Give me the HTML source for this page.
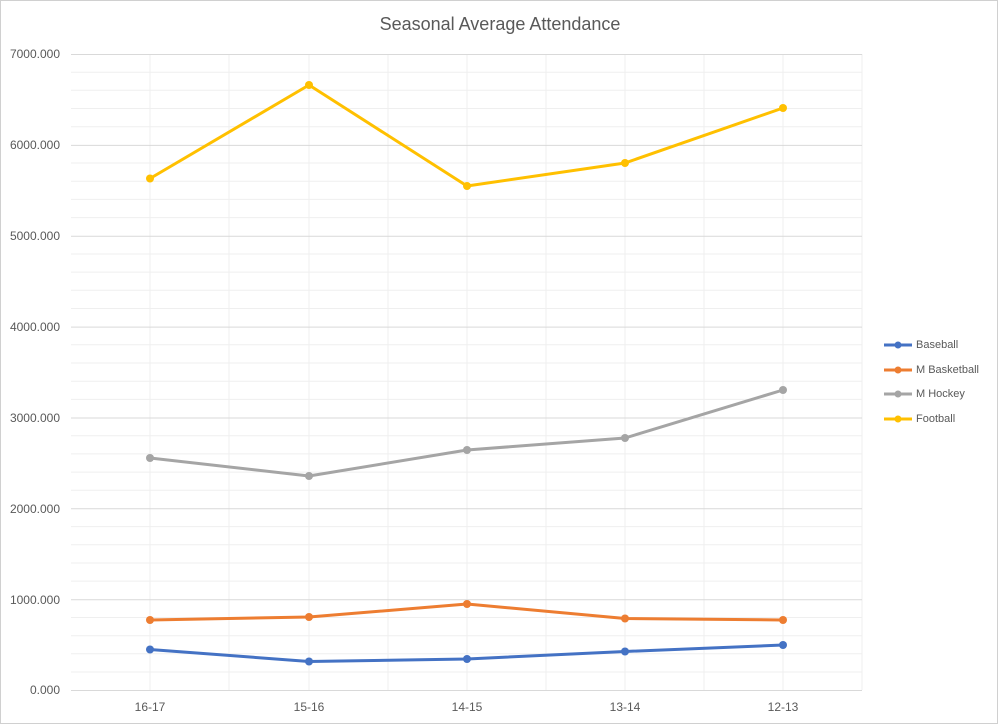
<!DOCTYPE html><html><head><style>body{margin:0;background:#fff}svg{display:block;font-family:"Liberation Sans",sans-serif}</style></head><body>
<svg width="1000" height="726" viewBox="0 0 1000 726">
<rect x="0.5" y="0.5" width="997" height="723" fill="#fff" stroke="#d0d0d0"/>
<text x="500" y="30" text-anchor="middle" font-size="18" fill="#595959">Seasonal Average Attendance</text>
<g stroke="#efefef" stroke-width="1">
<path d="M71 72.2H862M71 90.3H862M71 108.5H862M71 126.7H862M71 163H862M71 181.2H862M71 199.4H862M71 217.6H862M71 254H862M71 272.1H862M71 290.3H862M71 308.5H862M71 344.8H862M71 363H862M71 381.2H862M71 399.4H862M71 435.7H862M71 453.9H862M71 472.1H862M71 490.3H862M71 526.6H862M71 544.8H862M71 563H862M71 581.1H862M71 617.5H862M71 635.7H862M71 653.8H862M71 672H862"/>
<path d="M150 54V690M229 54V690M309 54V690M388 54V690M467 54V690M546 54V690M625 54V690M704 54V690M783 54V690M862 54V690"/>
</g>
<g stroke="#d9d9d9"><path d="M71 54.5H862M71 145.4H862M71 236.2H862M71 327.1H862M71 418H862M71 508.8H862M71 599.7H862M71 690.5H862"/></g>
<g font-size="12" fill="#595959" text-anchor="end">
<text x="60" y="58">7000.000</text><text x="60" y="149">6000.000</text><text x="60" y="240">5000.000</text><text x="60" y="331">4000.000</text><text x="60" y="422">3000.000</text><text x="60" y="513">2000.000</text><text x="60" y="604">1000.000</text><text x="60" y="694">0.000</text>
</g>
<g font-size="12" fill="#595959" text-anchor="middle">
<text x="150" y="711">16-17</text><text x="309" y="711">15-16</text><text x="467" y="711">14-15</text><text x="625" y="711">13-14</text><text x="783" y="711">12-13</text>
</g>
<g fill="none" stroke-width="3" stroke-linejoin="round">
<polyline stroke="#FFC000" points="150,178.5 309,85 467,186 625,163 783,108"/>
<polyline stroke="#A5A5A5" points="150,458 309,476 467,450 625,438 783,390"/>
<polyline stroke="#ED7D31" points="150,620 309,617 467,604 625,618.5 783,620"/>
<polyline stroke="#4472C4" points="150,649.5 309,661.5 467,659 625,651.5 783,645"/>
</g>
<g fill="#FFC000"><circle cx="150" cy="178.5" r="4"/><circle cx="309" cy="85" r="4"/><circle cx="467" cy="186" r="4"/><circle cx="625" cy="163" r="4"/><circle cx="783" cy="108" r="4"/></g>
<g fill="#A5A5A5"><circle cx="150" cy="458" r="4"/><circle cx="309" cy="476" r="4"/><circle cx="467" cy="450" r="4"/><circle cx="625" cy="438" r="4"/><circle cx="783" cy="390" r="4"/></g>
<g fill="#ED7D31"><circle cx="150" cy="620" r="4"/><circle cx="309" cy="617" r="4"/><circle cx="467" cy="604" r="4"/><circle cx="625" cy="618.5" r="4"/><circle cx="783" cy="620" r="4"/></g>
<g fill="#4472C4"><circle cx="150" cy="649.5" r="4"/><circle cx="309" cy="661.5" r="4"/><circle cx="467" cy="659" r="4"/><circle cx="625" cy="651.5" r="4"/><circle cx="783" cy="645" r="4"/></g>
<g stroke-width="3" font-size="11" fill="#595959">
<line x1="884" y1="345" x2="912" y2="345" stroke="#4472C4"/><circle cx="898" cy="345" r="3.5" fill="#4472C4"/><text x="916" y="348">Baseball</text>
<line x1="884" y1="370" x2="912" y2="370" stroke="#ED7D31"/><circle cx="898" cy="370" r="3.5" fill="#ED7D31"/><text x="916" y="373">M Basketball</text>
<line x1="884" y1="394" x2="912" y2="394" stroke="#A5A5A5"/><circle cx="898" cy="394" r="3.5" fill="#A5A5A5"/><text x="916" y="397">M Hockey</text>
<line x1="884" y1="419" x2="912" y2="419" stroke="#FFC000"/><circle cx="898" cy="419" r="3.5" fill="#FFC000"/><text x="916" y="422">Football</text>
</g>
</svg></body></html>
